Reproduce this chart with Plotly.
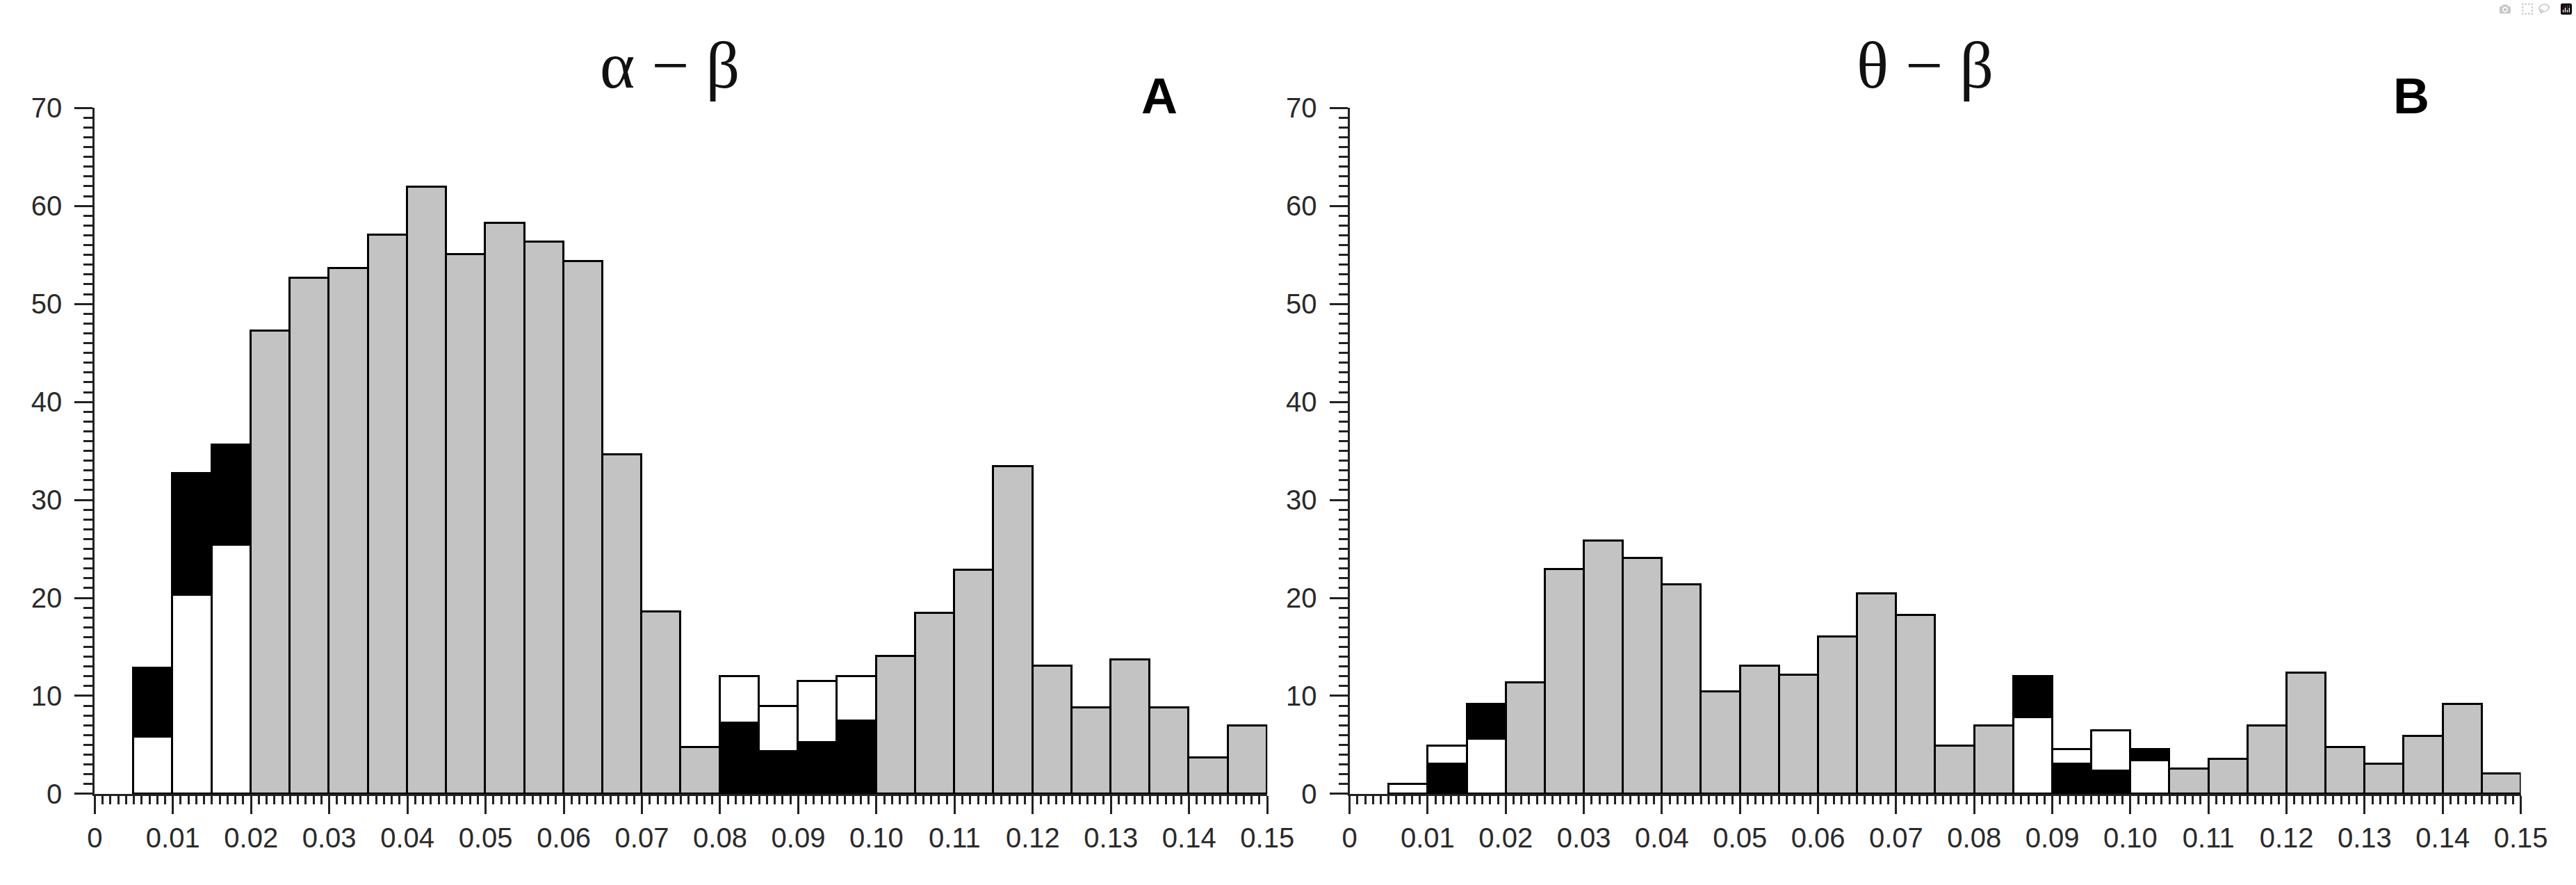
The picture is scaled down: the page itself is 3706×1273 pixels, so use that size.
import plotly.graph_objects as go

# ---------------- data ----------------
bin_start = [0.000, 0.005, 0.010, 0.015, 0.020, 0.025, 0.030, 0.035, 0.040, 0.045,
             0.050, 0.055, 0.060, 0.065, 0.070, 0.075, 0.080, 0.085, 0.090, 0.095,
             0.100, 0.105, 0.110, 0.115, 0.120, 0.125, 0.130, 0.135, 0.140, 0.145]
bin_width = 0.005

# Panel A (alpha - beta)
a_gray = [0, 0, 0, 0, 47.2, 52.6, 53.6, 57.0, 61.9, 55.0,
          58.2, 56.3, 54.3, 34.6, 18.6, 4.7, 0, 0, 0, 0,
          14.0, 18.4, 22.8, 33.4, 13.0, 8.8, 13.7, 8.8, 3.7, 6.9]
a_white = [0, 5.8, 20.3, 25.4, 0, 0, 0, 0, 0, 0,
           0, 0, 0, 0, 0, 0, 4.8, 4.6, 6.3, 4.6,
           0, 0, 0, 0, 0, 0, 0, 0, 0, 0]
a_black = [0, 7.0, 12.4, 10.2, 0, 0, 0, 0, 0, 0,
           0, 0, 0, 0, 0, 0, 7.2, 4.3, 5.2, 7.4,
           0, 0, 0, 0, 0, 0, 0, 0, 0, 0]
a_black_below = [False, False, False, False, False, False, False, False, False, False,
                 False, False, False, False, False, False, True, True, True, True,
                 False, False, False, False, False, False, False, False, False, False]

# Panel B (theta - beta)
b_gray = [0, 0, 0, 0, 11.3, 22.9, 25.8, 24.0, 21.3, 10.4,
          13.0, 12.1, 16.0, 20.4, 18.2, 4.9, 6.9, 0, 0, 0,
          0, 2.5, 3.5, 6.9, 12.3, 4.7, 3.0, 5.9, 9.1, 2.0]
b_white = [0, 1.0, 1.9, 5.6, 0, 0, 0, 0, 0, 0,
           0, 0, 0, 0, 0, 0, 0, 7.8, 1.5, 4.1,
           3.4, 0, 0, 0, 0, 0, 0, 0, 0, 0]
b_black = [0, 0, 3.0, 3.5, 0, 0, 0, 0, 0, 0,
           0, 0, 0, 0, 0, 0, 0, 4.2, 3.0, 2.3,
           1.1, 0, 0, 0, 0, 0, 0, 0, 0, 0]
b_black_below = [False, False, True, False, False, False, False, False, False, False,
                 False, False, False, False, False, False, False, False, True, True,
                 False, False, False, False, False, False, False, False, False, False]

x_tickvals = [0.00, 0.01, 0.02, 0.03, 0.04, 0.05, 0.06, 0.07, 0.08,
              0.09, 0.10, 0.11, 0.12, 0.13, 0.14, 0.15]
x_ticktext = ["0", "0.01", "0.02", "0.03", "0.04", "0.05", "0.06", "0.07", "0.08",
              "0.09", "0.10", "0.11", "0.12", "0.13", "0.14", "0.15"]

titles = ["\u03b1 \u2212 \u03b2", "\u03b8 \u2212 \u03b2"]
panel_labels = ["A", "B"]

# ---------------- style ----------------
W, H = 3706, 1273
GRAY = "#c3c3c3"
WHITE = "#ffffff"
BLACK = "#000000"
AX = "#222222"
LINE_W = 3


def segments(gray, white, black, black_below):
    lo_y, lo_c, up_y, up_c = [], [], [], []
    for g, w, b, bb in zip(gray, white, black, black_below):
        if g > 0:
            lo_y.append(g); lo_c.append(GRAY)
            up_y.append(None); up_c.append(GRAY)
        elif w == 0 and b == 0:
            lo_y.append(None); lo_c.append(GRAY)
            up_y.append(None); up_c.append(GRAY)
        elif bb:
            lo_y.append(b if b > 0 else None); lo_c.append(BLACK)
            up_y.append(w if w > 0 else None); up_c.append(WHITE)
        else:
            lo_y.append(w if w > 0 else None); lo_c.append(WHITE)
            up_y.append(b if b > 0 else None); up_c.append(BLACK)
    return lo_y, lo_c, up_y, up_c


fig = go.Figure()
panels = [(a_gray, a_white, a_black, a_black_below, "x", "y"),
          (b_gray, b_white, b_black, b_black_below, "x2", "y2")]
for gray, white, black, bb, xa, ya in panels:
    lo_y, lo_c, up_y, up_c = segments(gray, white, black, bb)
    for yv, cv in ((lo_y, lo_c), (up_y, up_c)):
        fig.add_trace(go.Bar(
            x=bin_start, y=yv, width=bin_width, offset=0,
            marker=dict(color=cv, line=dict(color=BLACK, width=LINE_W)),
            xaxis=xa, yaxis=ya, showlegend=False, hoverinfo="skip",
        ))

# pixel layout
ax_px = [(127, 1837), (1957, 3665)]
y0_px, y70_px = 1160, 138
ydom = [1 - y0_px / H, 1 - y70_px / H]

tickfont = dict(family="Liberation Sans, Arial, sans-serif", size=40, color="#2a2a2a")

def xaxis_cfg(i, anchor):
    return dict(
        domain=[ax_px[i][0] / W, ax_px[i][1] / W], range=[0, 0.15], anchor=anchor,
        tickmode="array", tickvals=x_tickvals, ticktext=x_ticktext,
        ticks="outside", ticklen=26, tickwidth=3, tickcolor=AX,
        showline=True, linecolor=AX, linewidth=LINE_W,
        showgrid=False, zeroline=False, tickfont=tickfont,
        minor=dict(dtick=0.001, tick0=0, ticks="outside", ticklen=12,
                   tickwidth=3, tickcolor=AX, showgrid=False),
        fixedrange=True,
    )

def yaxis_cfg(anchor):
    return dict(
        domain=ydom, range=[0, 70], anchor=anchor,
        tickmode="linear", tick0=0, dtick=10,
        ticks="outside", ticklen=26, tickwidth=3, tickcolor=AX,
        showline=True, linecolor=AX, linewidth=LINE_W,
        showgrid=False, zeroline=False, tickfont=tickfont,
        ticklabelstandoff=10,
        minor=dict(dtick=1, tick0=0, ticks="outside", ticklen=13,
                   tickwidth=3, tickcolor=AX, showgrid=False),
        fixedrange=True,
    )

fig.update_layout(
    width=W, height=H, autosize=False,
    margin=dict(l=0, r=0, t=0, b=0),
    paper_bgcolor="white", plot_bgcolor="white",
    barmode="stack", bargap=0,
    showlegend=False,
    xaxis=xaxis_cfg(0, "y"), yaxis=yaxis_cfg("x"),
    xaxis2=xaxis_cfg(1, "y2"), yaxis2=yaxis_cfg("x2"),
)

title_x = [966, 2796]
label_x = [1680, 3505]
for i in range(2):
    fig.add_annotation(
        xref="paper", yref="paper", x=title_x[i] / W, y=1 - 74 / H,
        xanchor="center", yanchor="middle", showarrow=False,
        text=titles[i],
        font=dict(family="Liberation Serif, Times New Roman, serif", size=96, color="#111111"),
    )
    fig.add_annotation(
        xref="paper", yref="paper", x=label_x[i] / W, y=1 - 120 / H,
        xanchor="center", yanchor="middle", showarrow=False,
        text="<b>%s</b>" % panel_labels[i],
        font=dict(family="Liberation Sans, Arial, sans-serif", size=72, color="#000000"),
    )

fig.write_html("out.html",
               post_script="document.body.style.margin='0';document.body.style.overflow='hidden';")
